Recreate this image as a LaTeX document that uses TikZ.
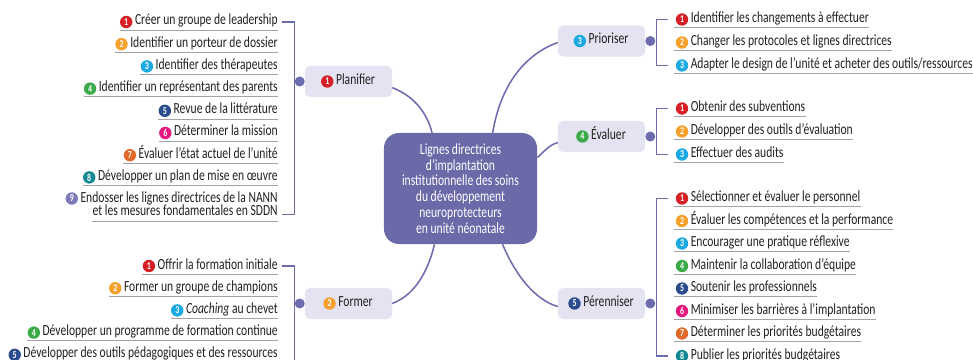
\documentclass[tikz,border=0pt]{standalone}
\usepackage{fontspec}
\setmainfont[FakeStretch=0.75]{Carlito}
\usetikzlibrary{positioning}

\definecolor{trait}{HTML}{6D6CAE}
\definecolor{fond}{HTML}{E4E3F1}
\definecolor{coeur}{HTML}{6B6AA9}
\definecolor{gris}{HTML}{A3A3A3}
\definecolor{texte}{HTML}{231F20}
\definecolor{c1}{HTML}{D71F26}
\definecolor{c2}{HTML}{F5A02A}
\definecolor{c3}{HTML}{1BA9E1}
\definecolor{c4}{HTML}{3DAA4A}
\definecolor{c5}{HTML}{2B4C8C}
\definecolor{c6}{HTML}{E5177E}
\definecolor{c7}{HTML}{E2692A}
\definecolor{c8}{HTML}{138A93}
\definecolor{c9}{HTML}{7C7AB8}

\tikzset{
  trait/.style={draw=trait, line width=1.1pt},
  souligne/.style={draw=gris, line width=0.6pt},
  item/.style={inner sep=0pt, text height=0.275cm, text depth=0.125cm,
    text=texte, font=\fontsize{11}{13}\selectfont},
  puce/.style={circle, fill=#1, inner sep=0pt, minimum size=0.31cm,
    text=white, font=\bfseries\fontsize{7.5}{8}\selectfont},
  boite/.style={fill=fond, rounded corners=0.125cm, minimum width=2.175cm,
    minimum height=0.775cm, inner sep=0pt},
  point/.style={circle, fill=trait, inner sep=0pt, minimum size=0.25cm},
  coeur/.style={fill=coeur, rounded corners=0.375cm, minimum width=3.825cm,
    minimum height=2.775cm, text=white, align=center,
    font=\fontsize{11}{11.2}\selectfont},
}

\begin{document}
\begin{tikzpicture}[x=0.025cm, y=-0.025cm]
  \useasboundingbox (0,0) rectangle (973,360);
  \clip (0,0) rectangle (973,360);

  % Centre
  \node[coeur] (centre) at (460.5,188.5) {Lignes directrices\\d’implantation\\
    institutionnelle des soins\\du développement\\neuroprotecteurs\\en unité néonatale};

  % Boxes of the five steps
  \foreach \nom/\i/\x/\y/\txt in {plan/1/348.5/81.5/Planifier, form/2/348.5/303.5/Former,
      prio/3/601.5/41/Prioriser, eval/4/601.5/136.5/Évaluer, pere/5/601.5/303.5/Pérenniser}
  {\node[boite] (\nom) at (\x,\y) {};
   \node[item] (\nom T) at ([xshift=0.175cm]\nom.center) {\txt};
   \node[puce=c\i, left=0.05cm of \nom T] (\nom N) {\i};}

  % dots
  \node[point] (dplan) at ([xshift=-0.125cm]plan.west) {};
  \node[point] (dform) at ([xshift=-0.125cm]form.west) {};
  \node[point] (dprio) at ([xshift=0.125cm]prio.east) {};
  \node[point] (deval) at ([xshift=0.125cm]eval.east) {};
  \node[point] (dpere) at ([xshift=0.125cm]pere.east) {};

  % Curves to the centre
  \draw[trait] (plan.-8) .. controls +(23,9) and +(-5,-19) .. (centre.117);
  \draw[trait] (form.east) .. controls +(26,-10) and +(-5,21) .. (centre.-115);
  \draw[trait] (centre.60) .. controls +(8,-48) and +(-33,12) .. (prio.182);
  \draw[trait] (centre.22) .. controls +(8,-7) and +(-8,2) .. (eval.188);
  \draw[trait] (centre.-53) .. controls +(13,31) and +(-23,-7) .. (pere.184);

  % Planifier
  \foreach \i/\txt in {1/{Créer un groupe de leadership}, 2/{Identifier un porteur de dossier},
      3/{Identifier des thérapeutes}, 4/{Identifier un représentant des parents},
      5/{Revue de la littérature}, 6/{Déterminer la mission},
      7/{Évaluer l’état actuel de l’unité}, 8/{Développer un plan de mise en œuvre}}
  {\pgfmathsetmacro\y{22+22.2*(\i-1)}
   \node[item, anchor=east] (pl\i) at (278,\y) {\txt};
   \node[puce=c\i, left=0.05cm of pl\i] (npl\i) {\i};
   \draw[souligne] (npl\i.west |- pl\i.south) -- (pl\i.south east);}
  \node[item, text height=0.2cm, text depth=0cm, anchor=base east] (pl9) at (278,202.5)
    {Endosser les lignes directrices de la NANN};
  \node[puce=c9, left=0.05cm of pl9] (npl9) {9};
  \node[item, text height=0.2cm, anchor=base east] (pl9b) at (278,216)
    {et les mesures fondamentales en SDDN};
  \draw[souligne] (pl9b.south west) -- (pl9b.south east);
  \draw[trait] ([xshift=0.1cm]pl1.east) -| (dplan.west) |- ([xshift=0.1cm]pl9b.east);

  % Former
  \foreach \i/\txt in {1/{Offrir la formation initiale}, 2/{Former un groupe de champions},
      3/{\textit{Coaching} au chevet}, 4/{Développer un programme de formation continue},
      5/{Développer des outils pédagogiques et des ressources}}
  {\pgfmathsetmacro\y{266+22.2*(\i-1)}
   \node[item, anchor=east] (fo\i) at (278,\y) {\txt};
   \node[puce=c\i, left=0.05cm of fo\i] (nfo\i) {\i};
   \draw[souligne] (nfo\i.west |- fo\i.south) -- (fo\i.south east);}
  \draw[trait] ([xshift=0.1cm]fo1.east) -| (dform.west) -- ([yshift=-2cm]dform.west);

  % Prioriser
  \foreach \i/\txt in {1/{Identifier les changements à effectuer},
      2/{Changer les protocoles et lignes directrices},
      3/{Adapter le design de l’unité et acheter des outils/ressources}}
  {\pgfmathsetmacro\y{19.5+23*(\i-1)}
   \node[puce=c\i] (npr\i) at (682,\y) {\i};
   \node[item, right=0.05cm of npr\i] (pr\i) {\txt};
   \draw[souligne] ([xshift=-0.05cm]npr\i.west |- pr\i.south) -- (pr\i.south east);}
  \draw[trait] ([xshift=-0.2cm]npr1.west) -| ([xshift=0.025cm]dprio.east)
    |- ([xshift=-0.2cm]npr3.west);

  % Evaluer
  \foreach \i/\txt in {1/{Obtenir des subventions}, 2/{Développer des outils d’évaluation},
      3/{Effectuer des audits}}
  {\pgfmathsetmacro\y{108.5+23*(\i-1)}
   \node[puce=c\i] (nev\i) at (682,\y) {\i};
   \node[item, right=0.05cm of nev\i] (ev\i) {\txt};
   \draw[souligne] ([xshift=-0.05cm]nev\i.west |- ev\i.south) -- (ev\i.south east);}
  \draw[trait] ([xshift=-0.2cm]nev1.west) -| ([xshift=0.025cm]deval.east)
    |- ([xshift=-0.2cm]nev3.west);

  % Perenniser
  \foreach \i/\txt in {1/{Sélectionner et évaluer le personnel},
      2/{Évaluer les compétences et la performance}, 3/{Encourager une pratique réflexive},
      4/{Maintenir la collaboration d’équipe}, 5/{Soutenir les professionnels},
      6/{Minimiser les barrières à l’implantation}, 7/{Déterminer les priorités budgétaires},
      8/{Publier les priorités budgétaires}}
  {\pgfmathsetmacro\y{198.5+22.5*(\i-1)}
   \node[puce=c\i] (npe\i) at (682,\y) {\i};
   \node[item, right=0.05cm of npe\i] (pe\i) {\txt};
   \draw[souligne] ([xshift=-0.05cm]npe\i.west |- pe\i.south) -- (pe\i.south east);}
  \draw[trait] ([xshift=-0.2cm]npe1.west) -| ([xshift=0.025cm]dpere.east)
    |- ([xshift=-0.2cm]npe8.west);
\end{tikzpicture}
\end{document}
